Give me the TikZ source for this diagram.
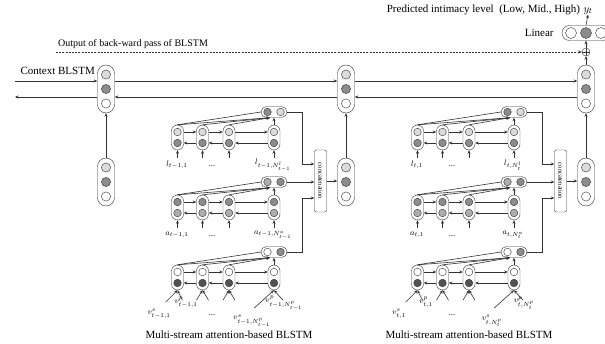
\documentclass[tikz,border=0pt]{standalone}
\usepackage{fontspec}
\setmainfont{Liberation Serif}
\usepackage{graphicx}
\usetikzlibrary{arrows.meta, positioning, calc}

\definecolor{lightg}{gray}{0.86}
\definecolor{midg}{gray}{0.68}
\definecolor{darkg}{gray}{0.55}
\definecolor{deepg}{gray}{0.32}
\definecolor{linec}{gray}{0.2}

\begin{document}
\begin{tikzpicture}[x=1pt, y=-1pt,
    bigcell/.style n args={3}{draw=linec, fill=white, rounded corners=8.5pt, minimum width=17pt, minimum height=48pt, inner sep=0pt,
        path picture={
            \draw[linec, fill=#1] ([yshift=14.5pt]path picture bounding box.center) circle (4.6pt);
            \draw[linec, fill=#2] (path picture bounding box.center) circle (4.6pt);
            \draw[linec, fill=#3] ([yshift=-14.5pt]path picture bounding box.center) circle (4.6pt);}},
    cell/.style 2 args={draw=linec, fill=white, rounded corners=6pt, minimum width=12pt, minimum height=25pt, inner sep=0pt,
        path picture={
            \draw[linec, fill=#1] ([yshift=5.5pt]path picture bounding box.center) circle (3.8pt);
            \draw[linec, fill=#2] ([yshift=-5.5pt]path picture bounding box.center) circle (3.8pt);}},
    att/.style 2 args={draw=linec, fill=white, rounded corners=5.5pt, minimum width=26pt, minimum height=11pt, inner sep=0pt,
        path picture={
            \draw[linec, fill=#1] ([xshift=-6.5pt]path picture bounding box.center) circle (3.8pt);
            \draw[linec, fill=#2] ([xshift=6.5pt]path picture bounding box.center) circle (3.8pt);}},
    linear/.style={draw=linec, fill=white, rounded corners=7.5pt, minimum width=48pt, minimum height=15pt, inner sep=0pt,
        path picture={
            \draw[linec, fill=white] ([xshift=-15pt]path picture bounding box.center) circle (5.5pt);
            \draw[linec, fill=darkg] (path picture bounding box.center) circle (5.5pt);
            \draw[linec, fill=white] ([xshift=15pt]path picture bounding box.center) circle (5.5pt);}},
    oplus/.style={circle, draw=linec, minimum size=8pt, inner sep=0pt,
        path picture={
            \draw[linec] (path picture bounding box.north) -- (path picture bounding box.south);
            \draw[linec] (path picture bounding box.west) -- (path picture bounding box.east);}},
    concat/.style={draw=linec, fill=white, rounded corners=2pt, minimum width=12pt, minimum height=62pt, inner sep=0pt, font=\fontsize{6.5}{7}\selectfont},
    arrow/.style={-{Stealth[length=3.5pt, width=3pt]}, linec, line width=0.6pt},
    lbl/.style={inner sep=0pt, font=\fontsize{8.5}{10}\selectfont},
    txt/.style={inner sep=0pt, font=\fontsize{11}{12}\selectfont},
    note/.style={inner sep=0pt, font=\fontsize{10}{11}\selectfont}
]
\useasboundingbox (0,0) rectangle (605,344);

% Context BLSTM (top row) and its inputs
\node[bigcell={lightg}{darkg}{white}] (ctxA) at (106,89) {};
\node[bigcell={lightg}{darkg}{white}] (ctxB) at (346,89) {};
\node[bigcell={lightg}{darkg}{white}] (ctxC) at (586,89) {};
\node[bigcell={lightg}{darkg}{white}] (inA) at (106,182) {};
\node[bigcell={lightg}{darkg}{white}] (inB) at (346,182) {};
\node[bigcell={lightg}{darkg}{white}] (inC) at (586,182) {};
\node[txt, anchor=base east] (ctxlbl) at (95,75) {Context BLSTM};
\coordinate (fwin) at (15,81);
\coordinate (bwout) at (15,97);

% Output part
\node[oplus] (sum) at (586,52) {};
\node[linear] (lin) at (586,33) {};
\node[txt, left=8pt of lin] (linlbl) {Linear};
\node[txt] (yt) at (588,11) {$y_t$};
\node[txt, anchor=base east] (predlbl) at ([xshift=-3pt]yt.base west) {Predicted intimacy level~ (Low, Mid., High)};
\coordinate (dstart) at (56,52);
\node[note, anchor=south west] (outlbl) at (58,49) {Output of back-ward pass of BLSTM};

% Arrows - context flow
\draw[arrow] (fwin) -- (fwin -| ctxA.west);
\draw[arrow] ([yshift=8pt]ctxA.east) -- ([yshift=8pt]ctxB.west);
\draw[arrow] ([yshift=8pt]ctxB.east) -- ([yshift=8pt]ctxC.west);
\draw[arrow] ([yshift=-8pt]ctxC.west) -- ([yshift=-8pt]ctxB.east);
\draw[arrow] ([yshift=-8pt]ctxB.west) -- ([yshift=-8pt]ctxA.east);
\draw[arrow] ([yshift=-8pt]ctxA.west) -- (bwout);
\draw[arrow] (inA.north) -- (ctxA.south);
\draw[arrow] (inB.north) -- (ctxB.south);
\draw[arrow] (inC.north) -- (ctxC.south);
\draw[arrow] (ctxC.north) -- (sum.south);
\draw[arrow] (sum.north) -- (lin.south);
\draw[arrow] (lin.north) -- (yt.south);
\draw[arrow, dash pattern=on 2pt off 1.2pt] (dstart) -- (sum.west);

% Multi-stream attention-based BLSTM (t-1 and t)
\foreach \g/\dx/\tm in {B/0/t-1, C/240/t}{
\begin{scope}[shift={(\dx,0)}]
    \foreach \st/\dy/\colA/\colB/\colC/\colD in {l/0/lightg/darkg/darkg/lightg, a/70/darkg/midg/midg/darkg, v/140/white/deepg/white/darkg}{
        \node[att={\colC}{\colD}] (att\st\g) at (274,112+\dy) {};
        \foreach \i/\x in {1/177.5, 2/202.5, 3/229, 4/274}
            \node[cell={\colA}{\colB}] (\st\g\i) at (\x,137.5+\dy) {};
        \foreach \i/\j in {1/2, 2/3, 3/4}{
            \draw[arrow] ([yshift=5.5pt]\st\g\i.east) -- ([yshift=5.5pt]\st\g\j.west);
            \draw[arrow] ([yshift=-5.5pt]\st\g\j.west) -- ([yshift=-5.5pt]\st\g\i.east);
        }
        \draw[linec, line width=0.6pt] (\st\g1.north) -- (att\st\g.west);
        \foreach \i in {1,2,3}
            \draw[arrow] (\st\g\i.north) -- ([xshift=-4pt]att\st\g.south);
        \draw[arrow] (\st\g4.north) -- (att\st\g.south);
    }
    % inputs
    \foreach \st in {l,a}
        \foreach \i in {1,...,4}
            \draw[arrow] ([yshift=-8pt]\st\g\i.south) -- (\st\g\i.south);
    \foreach \i in {2,3}{
        \draw[arrow] ([shift={(-6pt,-10pt)}]v\g\i.south) -- (v\g\i.south);
        \draw[arrow] ([shift={(6pt,-10pt)}]v\g\i.south) -- (v\g\i.south);
    }
    \draw[arrow] ([shift={(-12pt,-12pt)}]v\g1.south) -- (v\g1.south);
    \draw[arrow] ([shift={(5pt,-10pt)}]v\g1.south) -- (v\g1.south);
    \draw[arrow] ([shift={(-20pt,-18pt)}]v\g4.south) -- (v\g4.south);
    \draw[arrow] ([shift={(9pt,-10pt)}]v\g4.south) -- (v\g4.south);

    \node[lbl] (ll\g1) at (177,165) {$l_{\tm,1}$};
    \node[lbl] (ld\g) at (212,166) {...};
    \node[lbl] (ll\g N) at (273,165) {$l_{\tm,N^{l}_{\tm}}$};
    \node[lbl] (al\g1) at (177,235) {$a_{\tm,1}$};
    \node[lbl] (ad\g) at (212,236) {...};
    \node[lbl] (al\g N) at (273,235) {$a_{\tm,N^{a}_{\tm}}$};
    \node[lbl] (vs\g1) at (159,314) {$v^{s}_{\tm,1}$};
    \node[lbl] (vp\g1) at (186,302) {$v^{p}_{\tm,1}$};
    \node[lbl] (vd\g) at (212,315) {...};
    \node[lbl] (vs\g N) at (252,321) {$v^{s}_{\tm,N^{p}_{\tm}}$};
    \node[lbl] (vp\g N) at (284,303) {$v^{p}_{\tm,N^{p}_{\tm}}$};

    \node[concat] (cat\g) at (320.5,181) {\rotatebox{-90}{concatenation}};
    \draw[arrow] (attl\g.east) -- ++(15,0) |- ([yshift=17pt]cat\g.west);
    \draw[arrow] (atta\g.east) -- (atta\g.east -| cat\g.west);
    \draw[arrow] (attv\g.east) -- ++(15,0) |- ([yshift=-17pt]cat\g.west);
    \draw[arrow] (cat\g.east) -- (cat\g.east -| in\g.west);

    \node[txt] (title\g) at (229,335) {Multi-stream attention-based BLSTM};
\end{scope}
}

\end{tikzpicture}
\end{document}
